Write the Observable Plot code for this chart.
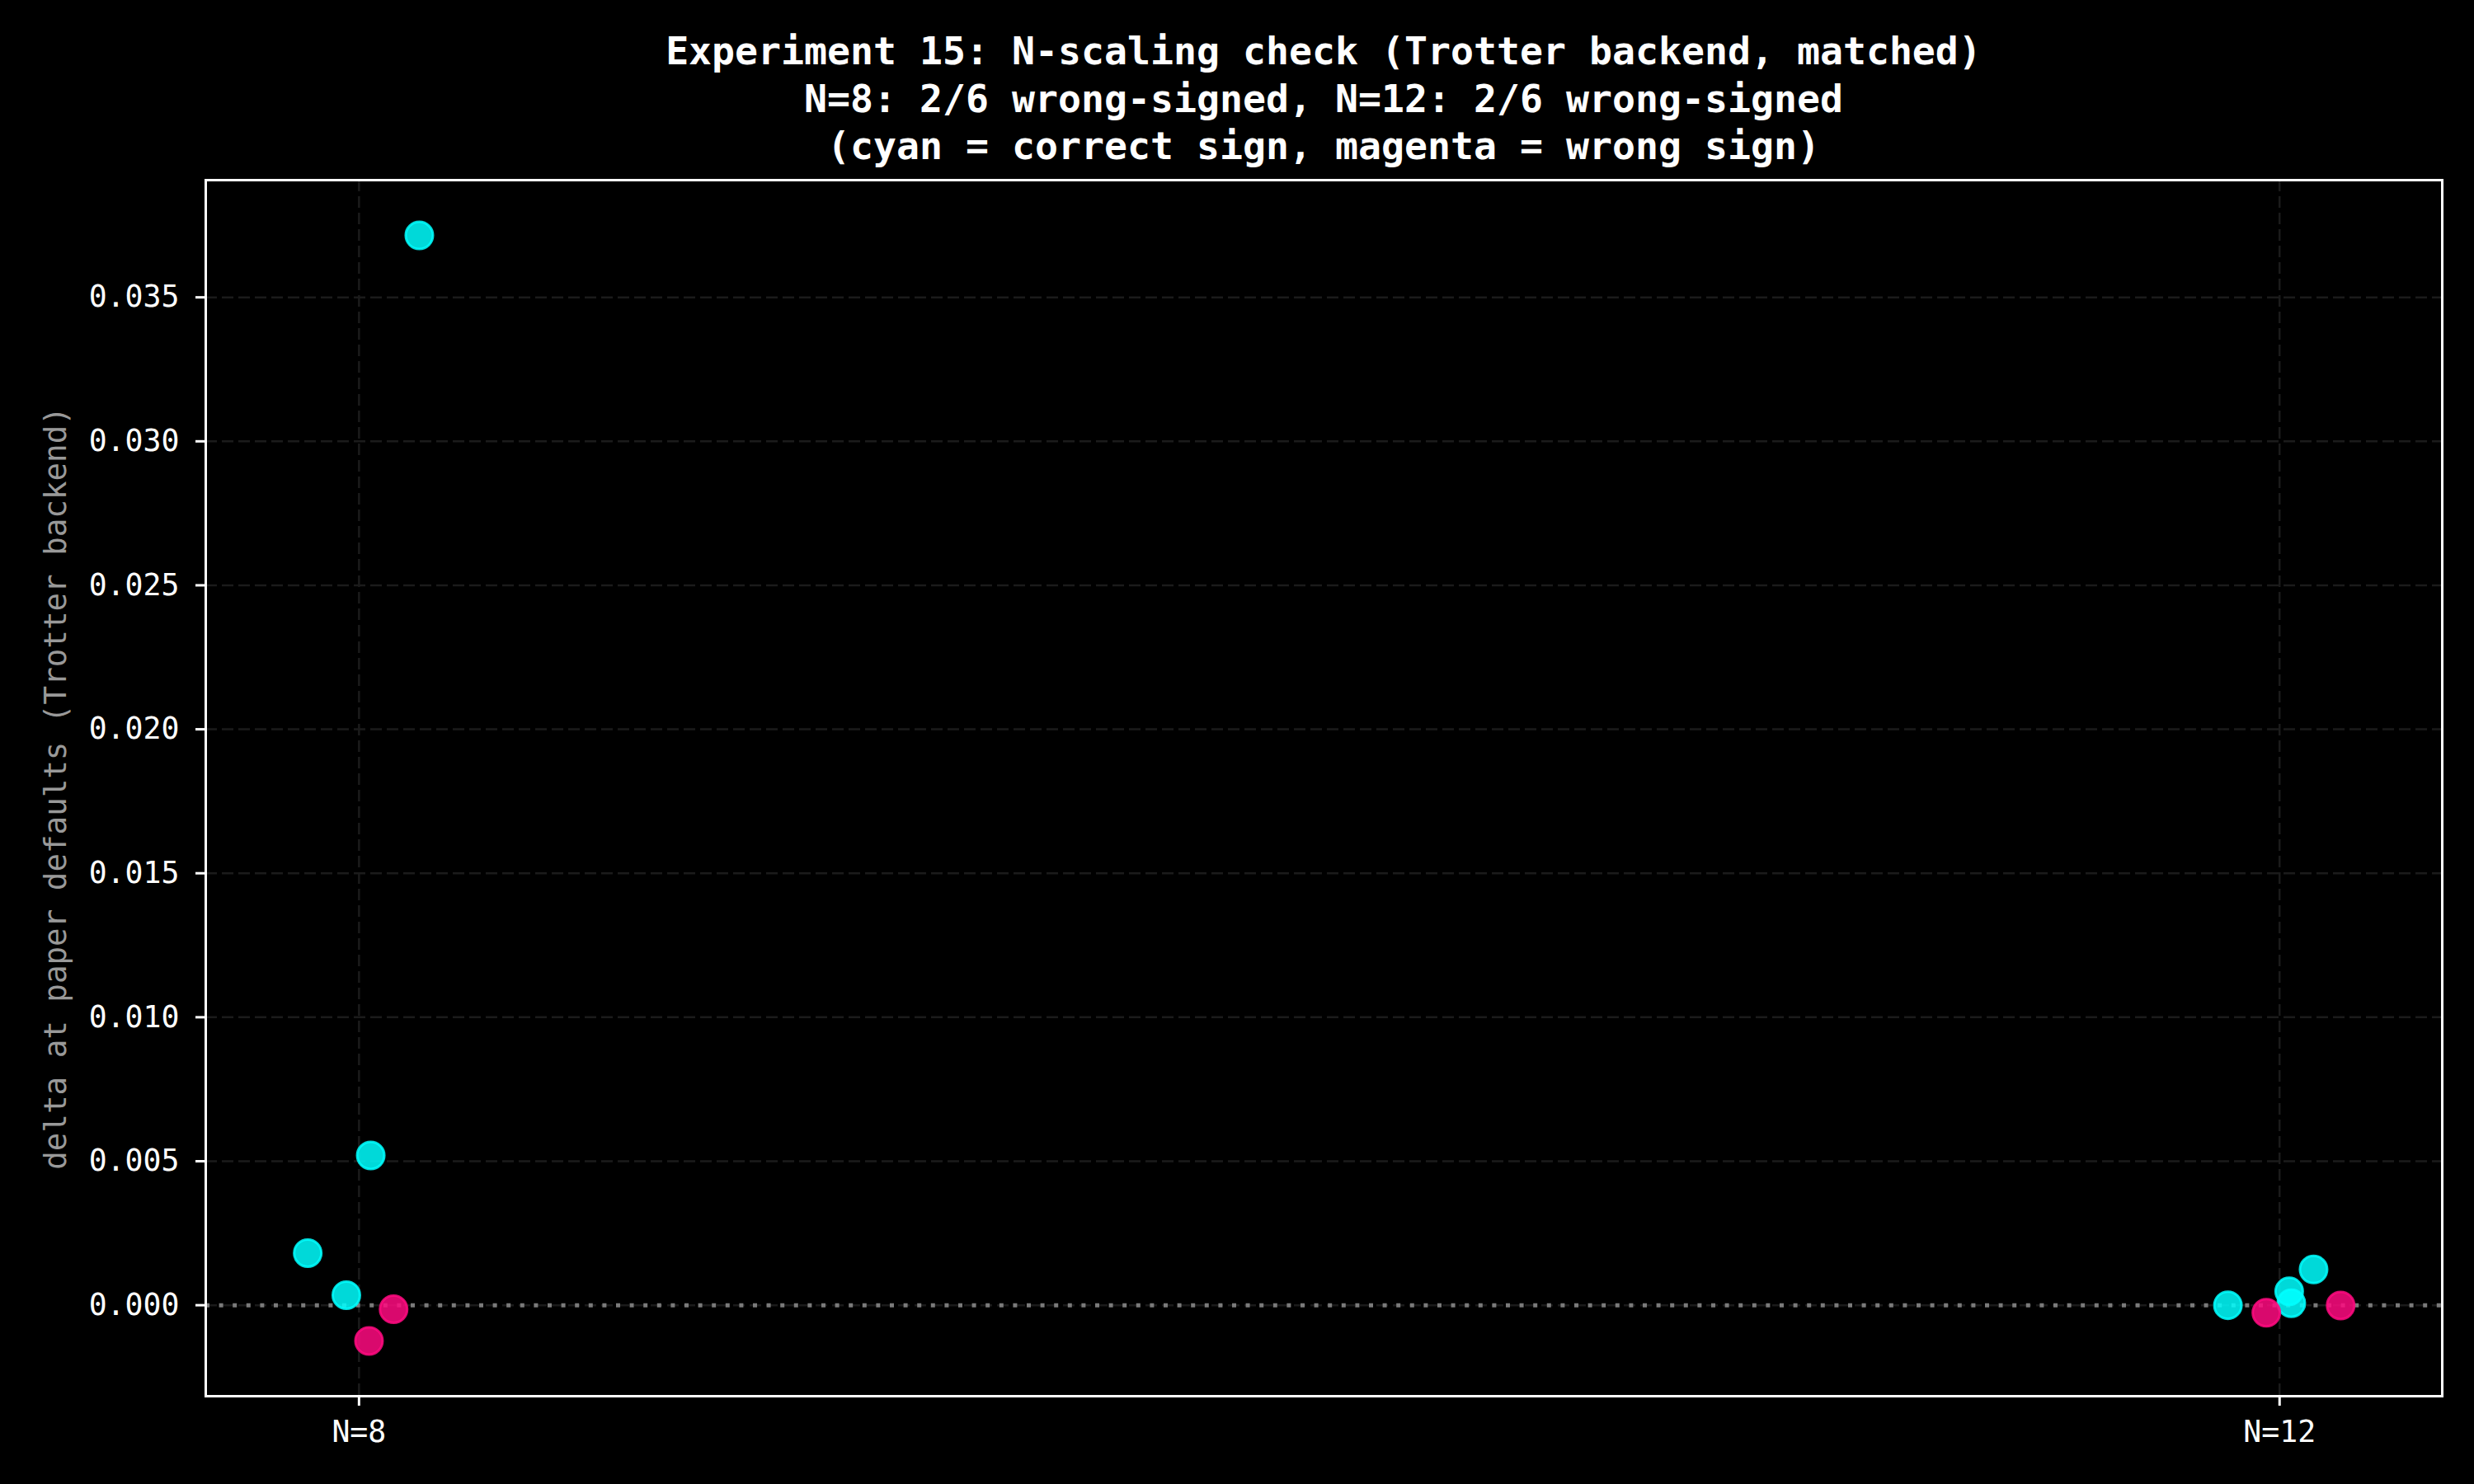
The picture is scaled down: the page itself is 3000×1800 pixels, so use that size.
<!DOCTYPE html>
<html>
<head>
<meta charset="utf-8">
<script src="https://cdn.jsdelivr.net/npm/d3@7"></script>
<script src="https://cdn.jsdelivr.net/npm/@observablehq/plot@0.6"></script>
<style>
  html, body { margin: 0; padding: 0; background: #000; }
  #wrap { width: 3000px; height: 1800px; background: #000; overflow: hidden; }
  #title {
    box-sizing: border-box; width: 3000px; height: 200px;
    padding: 34px 39px 0 249px; text-align: center;
    font-family: "DejaVu Sans Mono", monospace; font-weight: bold;
    font-size: 46.5px; line-height: 57.5px; color: #fff; white-space: pre;
  }
  #chart svg { display: block; }
</style>
</head>
<body>
<div id="wrap">
  <div id="title">Experiment 15: N-scaling check (Trotter backend, matched)
N=8: 2/6 wrong-signed, N=12: 2/6 wrong-signed
(cyan = correct sign, magenta = wrong sign)</div>
  <div id="chart"></div>
</div>
<script>
// ---- data ----
const groupLabels = ["N=8", "N=12"];
const pointGroup  = [0, 0, 0, 0, 0, 0, 1, 1, 1, 1, 1, 1];
const jitter      = [-0.0267, -0.0066, 0.0061, 0.0314, 0.0052, 0.0180,
                     -0.0269, 0.0050, 0.0061, 0.0177, -0.0069, 0.0318];
const deltaValues = [0.00181, 0.00035, 0.00520, 0.03715, -0.00124, -0.00014,
                     0.00000, 0.00048, 0.00007, 0.00124, -0.00026, -0.00001];
const correctSign = [true, true, true, true, false, false,
                     true, true, true, true, false, false];
const yTicks = [0, 0.005, 0.010, 0.015, 0.020, 0.025, 0.030, 0.035];
const colorCorrect = "#00ffff";
const colorWrong = "#ff0a80";

const points = deltaValues.map((v, i) => ({
  x: pointGroup[i] + jitter[i],
  y: v,
  c: correctSign[i] ? colorCorrect : colorWrong
}));

const font = "DejaVu Sans Mono, monospace";

const chart = Plot.plot({
  width: 3000,
  height: 1600,
  marginTop: 18,
  marginBottom: 107,
  marginLeft: 249,
  marginRight: 39,
  style: { background: "#000", color: "#fff", fontFamily: font },
  x: { type: "linear", domain: [-0.0798, 1.0847] },
  y: { type: "linear", domain: [-0.00316, 0.03907] },
  color: { type: "identity" },
  marks: [
    Plot.gridX([0, 1], { stroke: "#1b1b1b", strokeOpacity: 1, strokeWidth: 2.5, strokeDasharray: "14,6" }),
    Plot.gridY(yTicks, { stroke: "#1b1b1b", strokeOpacity: 1, strokeWidth: 2.5, strokeDasharray: "14,6" }),
    Plot.ruleY([0], { stroke: "#7a7a7a", strokeWidth: 5, strokeDasharray: "5,11.6" }),
    Plot.dot(points, {
      x: "x", y: "y", r: 16.5,
      fill: "c", stroke: "c",
      fillOpacity: 0.85, strokeOpacity: 0.85, strokeWidth: 3
    }),
    Plot.frame({ stroke: "#fff", strokeWidth: 3 }),
    Plot.axisX([0, 1], {
      tickFormat: d => groupLabels[d],
      tickSize: 12, tickPadding: 18, strokeWidth: 3, stroke: "#fff",
      fill: "#fff", fontSize: 36.5, fontFamily: font, label: null
    }),
    Plot.axisY(yTicks, {
      tickFormat: d3.format(".3f"),
      tickSize: 12, tickPadding: 20, strokeWidth: 3, stroke: "#fff",
      fill: "#fff", fontSize: 36.5, fontFamily: font, label: null
    }),
    Plot.text(["delta at paper defaults (Trotter backend)"], {
      frameAnchor: "left", textAnchor: "middle", dx: -182, rotate: -90,
      fill: "#999", fontSize: 37.5, fontFamily: font, text: d => d
    })
  ]
});
document.getElementById("chart").appendChild(chart);
</script>
</body>
</html>
